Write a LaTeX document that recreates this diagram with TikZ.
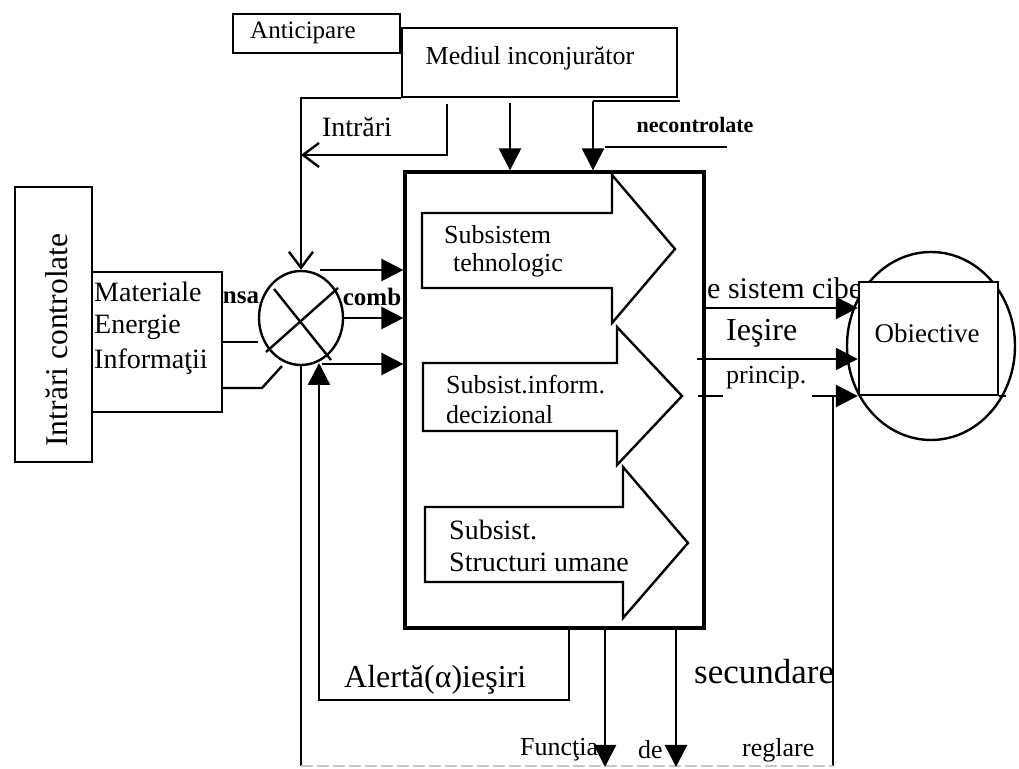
\documentclass[tikz,border=0pt]{standalone}
\usepackage{fontspec}
\setmainfont{Liberation Serif}
\usetikzlibrary{arrows.meta,shapes.geometric}
\newcommand\fsz[1]{\fontsize{#1}{#1}\selectfont}
\begin{document}
\begin{tikzpicture}[x=0.5pt,y=-0.5pt,line width=1.2pt,
  box/.style={draw,rectangle,inner sep=0pt,fill=white},
  lbl/.style={inner sep=0pt,font=\fsz{13pt}},
  fa/.style={-{Triangle[length=11pt,width=11pt]}},
  oa/.style={-{Straight Barb[length=8pt,width=12pt]}},
  blk/.style={draw,fill=white,line join=miter}]
\useasboundingbox (0,0) rectangle (1019,769);

% controlled inputs
\node[box,minimum width=38.5pt,minimum height=137.5pt] (ctrl) at (53.5,324.5) {};
\node[lbl,rotate=90,font=\fsz{15.8pt}] (ctrlT) at (57,340) {Intrări controlate};
\node[box,minimum width=65pt,minimum height=70pt] (mat) at (157,342) {};
\node[lbl,anchor=west,font=\fsz{14pt}] (t1) at (93,292) {Materiale};
\node[lbl,anchor=west,font=\fsz{14pt}] (t2) at (93,327) {Energie};
\node[lbl,anchor=west,font=\fsz{14pt}] (t3) at (93,362) {Informaţii};

% summing junction
\node[draw,ellipse,inner sep=0pt,minimum width=42pt,minimum height=47pt] (sum) at (301,318) {};
\draw (274,289) -- (331,360);
\draw (338,288) -- (266,352);
\node[lbl,font=\bfseries\fsz{12.5pt}] (nsa) at (241,298) {nsa};
\node[lbl,font=\bfseries\fsz{12.5pt}] (comb) at (372,297) {comb};

% links from the input block to the junction
\coordinate (m2) at (222,342);
\coordinate (m3) at (222,388);
\draw (m2) -- (m2 -| sum.west);
\draw (m3) -- (262,388) -- (282,366);

% main system
\node[box,line width=1.6pt,minimum width=149.5pt,minimum height=228pt] (main) at (554.5,400) {};
\draw[blk] (422,213) -- (612,213) -- (612,175) -- (675,249) -- (612,323) -- (612,288) -- (422,288) -- cycle;
\draw[blk] (423,363) -- (617,363) -- (617,327) -- (682,396) -- (617,465) -- (617,431) -- (423,431) -- cycle;
\draw[blk] (425,507) -- (623,507) -- (623,467) -- (688,543) -- (623,618) -- (623,582) -- (425,582) -- cycle;
\node[lbl,anchor=west] (s1a) at (443,235) {Subsistem};
\node[lbl,anchor=west] (s1b) at (452,265) {tehnologic};
\node[lbl,anchor=west] (s2a) at (445,385) {Subsist.inform.};
\node[lbl,anchor=west] (s2b) at (445,415) {decizional};
\node[lbl,anchor=west,font=\fsz{14pt}] (s3a) at (448,530) {Subsist.};
\node[lbl,anchor=west,font=\fsz{14pt}] (s3b) at (448,562) {Structuri umane};

% junction to main system
\coordinate (c1) at (320,270);
\coordinate (c3) at (322,364);
\draw[fa] (c1) -- (c1 -| main.west);
\draw[fa] (sum.east) -- (sum.east -| main.west);
\draw[fa] (c3) -- (c3 -| main.west);

% environment
\node[box,minimum width=83.5pt,minimum height=19.5pt] (ant) at (316.5,33.5) {};
\node[lbl,font=\fsz{12.5pt}] (antT) at (303,33) {Anticipare};
\node[box,minimum width=137.5pt,minimum height=34.5pt] (med) at (539.5,62.5) {};
\node[lbl] (medT) at (530,58) {Mediul inconjurător};

% uncontrolled inputs
\draw[oa] (med.south west) -- (med.south west -| sum.north) -- (sum.north);
\coordinate (i1) at (447,104);
\coordinate (i2) at (447,155);
\draw[oa] (i1) -- (i2) -- (i2 -| sum.north);
\node[lbl,font=\fsz{14pt}] (intr) at (357,127) {Intrări};
\coordinate (e1) at (510,103);
\draw[fa] (e1) -- (e1 |- main.north);
\coordinate (n1) at (593,101);
\draw (680,101) -- (n1);
\draw[fa] (n1) -- (n1 |- main.north);
\draw (605,147) -- (727,147);
\node[lbl,font=\bfseries\fsz{11pt}] (nctl) at (695,125) {necontrolate};

% objectives
\node[draw,ellipse,inner sep=0pt,minimum width=84pt,minimum height=94pt] (goal) at (931,346) {};
\node[lbl,anchor=west,font=\fsz{15pt}] (o1t) at (706,288) {e sistem cibe};
\node[box,minimum width=69.5pt,minimum height=56.5pt] (obj) at (928.5,338.5) {};
\draw (obj.south east) -- ++(7,0);
\node[lbl,font=\fsz{13.5pt}] (objT) at (927,333) {Obiective};

% outputs
\coordinate (o1) at (704,308);
\coordinate (o2) at (697,359);
\coordinate (o3) at (812,396);
\draw[fa] (o1) -- (o1 -| obj.west);
\draw[fa] (o2) -- (o2 -| obj.west);
\draw (698,396) -- (723,396);
\draw[fa] (o3) -- (o3 -| obj.west);
\node[lbl,anchor=west,font=\fsz{16pt}] (ies) at (725,333) {Ieşire};
\node[lbl,anchor=west,font=\fsz{13pt}] (pri) at (725,378) {princip.};

% feedback and secondary outputs
\coordinate (bl) at (301,766);
\coordinate (br) at (833,766);
\coordinate (b0) at (833,396);
\draw (sum.south) -- (bl);
\draw (b0) -- (br);
\draw[gray!45,line width=0.8pt,dash pattern=on 6pt off 2pt] (bl) -- (br);
\coordinate (a1) at (569,628);
\coordinate (a2) at (569,700);
\coordinate (a3) at (319,700);
\draw[fa] (a1) -- (a2) -- (a3) -- (319,363);
\node[lbl,anchor=west,font=\fsz{16pt}] (alert) at (343,680) {Alertă(α)ieşiri};
\coordinate (d1) at (605,628);
\coordinate (d2) at (676,628);
\draw[fa] (d1) -- (605,767);
\draw[fa] (d2) -- (676,767);
\node[lbl,anchor=west,font=\fsz{17.5pt}] (sec) at (693,672) {secundare};
\node[lbl,anchor=west] (f1) at (519,750) {Funcţia};
\node[lbl,anchor=west] (f2) at (637,750) {de};
\node[lbl,anchor=west] (f3) at (741,750) {reglare};
\end{tikzpicture}
\end{document}
